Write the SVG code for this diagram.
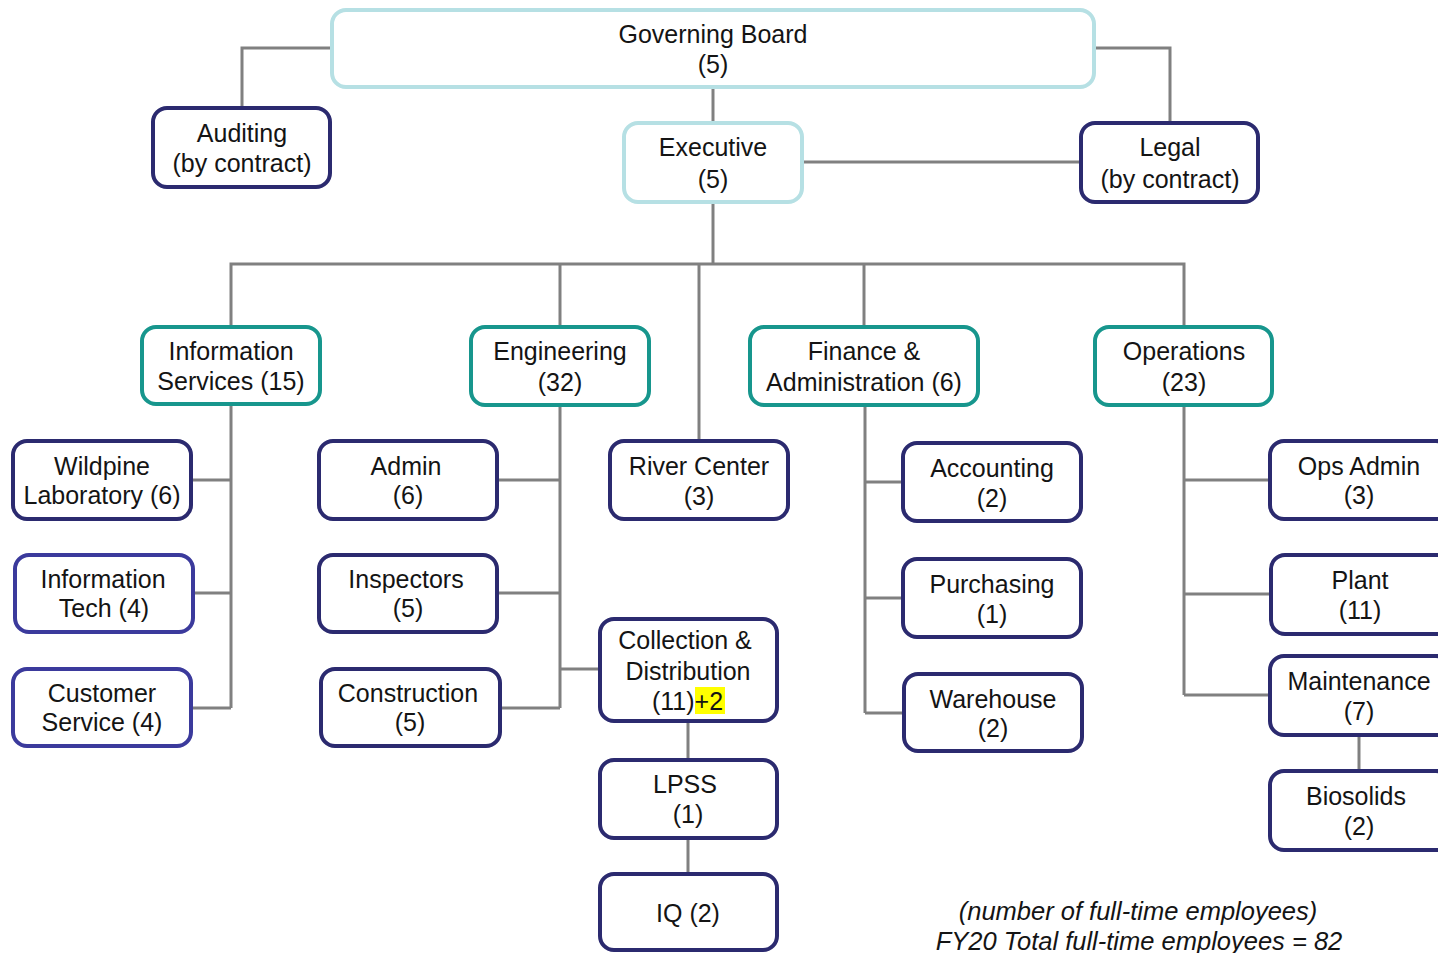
<svg xmlns="http://www.w3.org/2000/svg" width="1438" height="953" viewBox="0 0 1438 953">
<style>
.box{fill:#fff;stroke-width:4}
.lt{stroke:#b6e0e4}
.tl{stroke:#17968d}
.nv{stroke:#2b2a6f}
.bl{stroke:#3b3a9c}
text{font-family:"Liberation Sans",Arial,sans-serif;font-size:25px;fill:#141414;text-anchor:middle}
.ft{font-style:italic;font-size:25.5px}
.cn{fill:none;stroke:#808080;stroke-width:3}
</style>
<rect width="1438" height="953" fill="#fff"/>
<g id="connectors" class="cn">
<path d="M332 48H242V108"/>
<path d="M1094 48H1170V123"/>
<path d="M713 87V123"/>
<path d="M802 162H1081"/>
<path d="M713 202V264"/>
<path d="M231 327V264H1184V327"/>
<path d="M560 264V327"/>
<path d="M699 264V441"/>
<path d="M864 264V327"/>
<path d="M231 404V708"/>
<path d="M191 480H231M193 593H231M191 708H231"/>
<path d="M560 405V708"/>
<path d="M497 480H560M497 593H560M500 708H560M560 669H600"/>
<path d="M688 721V760M688 838V874"/>
<path d="M865 405V713"/>
<path d="M865 482H903M865 598H903M865 713H904"/>
<path d="M1184 405V695"/>
<path d="M1184 480H1270M1184 594H1271M1184 695H1270"/>
<path d="M1359 735V771"/>
</g>
<g id="governing-board"><rect class="box lt" x="332" y="10" width="762" height="77" rx="14"/><text x="713" y="43">Governing Board</text><text x="713" y="73">(5)</text></g>
<g id="auditing"><rect class="box nv" x="153" y="108" width="177" height="79" rx="14"/><text x="242" y="142">Auditing</text><text x="242" y="172">(by contract)</text></g>
<g id="executive"><rect class="box lt" x="624" y="123" width="178" height="79" rx="14"/><text x="713" y="156">Executive</text><text x="713" y="188">(5)</text></g>
<g id="legal"><rect class="box nv" x="1081" y="123" width="177" height="79" rx="14"/><text x="1170" y="156">Legal</text><text x="1170" y="188">(by contract)</text></g>
<g id="information-services"><rect class="box tl" x="142" y="327" width="178" height="77" rx="14"/><text x="231" y="360">Information</text><text x="231" y="390">Services (15)</text></g>
<g id="engineering"><rect class="box tl" x="471" y="327" width="178" height="78" rx="14"/><text x="560" y="360">Engineering</text><text x="560" y="391">(32)</text></g>
<g id="finance-administration"><rect class="box tl" x="750" y="327" width="228" height="78" rx="14"/><text x="864" y="360">Finance &amp;</text><text x="864" y="391">Administration (6)</text></g>
<g id="operations"><rect class="box tl" x="1095" y="327" width="177" height="78" rx="14"/><text x="1184" y="360">Operations</text><text x="1184" y="391">(23)</text></g>
<g id="wildpine-laboratory"><rect class="box nv" x="13" y="441" width="178" height="78" rx="14"/><text x="102" y="475">Wildpine</text><text x="102" y="504">Laboratory (6)</text></g>
<g id="information-tech"><rect class="box bl" x="15" y="555" width="178" height="77" rx="14"/><text x="103" y="588">Information</text><text x="104" y="617">Tech (4)</text></g>
<g id="customer-service"><rect class="box bl" x="13" y="669" width="178" height="77" rx="14"/><text x="102" y="702">Customer</text><text x="102" y="731">Service (4)</text></g>
<g id="admin"><rect class="box nv" x="319" y="441" width="178" height="78" rx="14"/><text x="406" y="475">Admin</text><text x="408" y="504">(6)</text></g>
<g id="inspectors"><rect class="box nv" x="319" y="555" width="178" height="77" rx="14"/><text x="406" y="588">Inspectors</text><text x="408" y="617">(5)</text></g>
<g id="construction"><rect class="box nv" x="321" y="669" width="179" height="77" rx="14"/><text x="408" y="702">Construction</text><text x="410" y="731">(5)</text></g>
<g id="river-center"><rect class="box nv" x="610" y="441" width="178" height="78" rx="14"/><text x="699" y="475">River Center</text><text x="699" y="505">(3)</text></g>
<g id="collection-distribution"><rect class="box nv" x="600" y="619" width="177" height="102" rx="14"/><text x="685" y="649">Collection &amp;</text><text x="688" y="680">Distribution</text><rect x="695" y="687" width="30" height="27" fill="#ffff00"/><text x="652" y="710" style="text-anchor:start">(11)+2</text></g>
<g id="lpss"><rect class="box nv" x="600" y="760" width="177" height="78" rx="14"/><text x="685" y="793">LPSS</text><text x="688" y="823">(1)</text></g>
<g id="iq"><rect class="box nv" x="600" y="874" width="177" height="76" rx="14"/><text x="688" y="922">IQ (2)</text></g>
<g id="accounting"><rect class="box nv" x="903" y="443" width="178" height="78" rx="14"/><text x="992" y="477">Accounting</text><text x="992" y="507">(2)</text></g>
<g id="purchasing"><rect class="box nv" x="903" y="559" width="178" height="78" rx="14"/><text x="992" y="593">Purchasing</text><text x="992" y="623">(1)</text></g>
<g id="warehouse"><rect class="box nv" x="904" y="674" width="178" height="77" rx="14"/><text x="993" y="708">Warehouse</text><text x="993" y="737">(2)</text></g>
<g id="ops-admin"><rect class="box nv" x="1270" y="441" width="180" height="78" rx="14"/><text x="1359" y="475">Ops Admin</text><text x="1359" y="504">(3)</text></g>
<g id="plant"><rect class="box nv" x="1271" y="555" width="180" height="79" rx="14"/><text x="1360" y="589">Plant</text><text x="1360" y="619">(11)</text></g>
<g id="maintenance"><rect class="box nv" x="1270" y="656" width="180" height="79" rx="14"/><text x="1359" y="690">Maintenance</text><text x="1359" y="720">(7)</text></g>
<g id="biosolids"><rect class="box nv" x="1270" y="771" width="180" height="79" rx="14"/><text x="1356" y="805">Biosolids</text><text x="1359" y="835">(2)</text></g>
<g id="footer"><text class="ft" x="1138" y="920">(number of full-time employees)</text><text class="ft" x="1139" y="950">FY20 Total full-time employees = 82</text></g>
</svg>
